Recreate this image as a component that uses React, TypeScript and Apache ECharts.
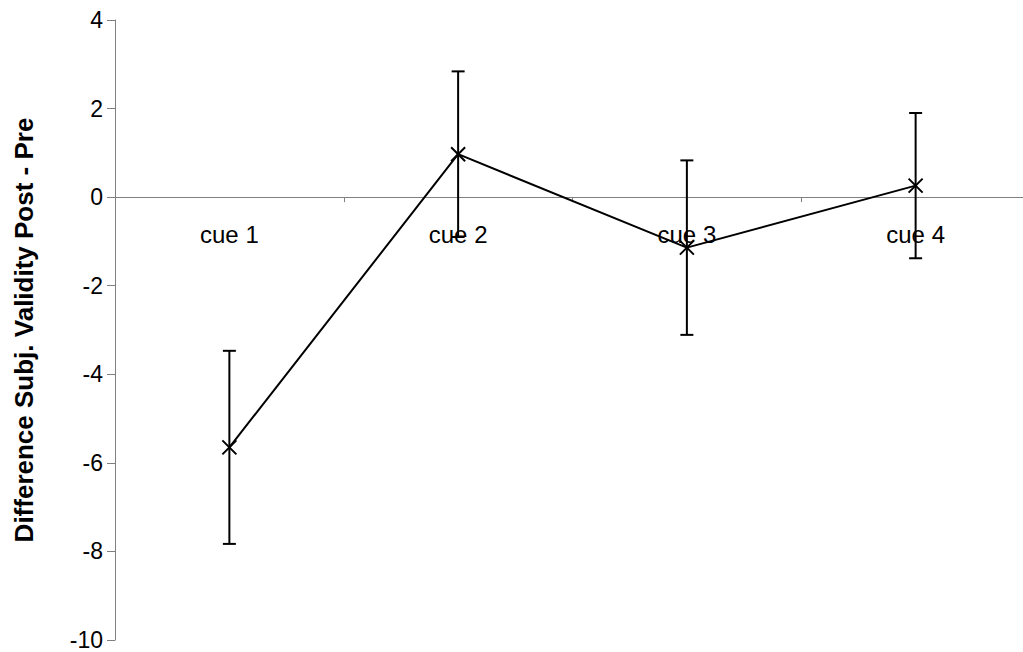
import React, { useEffect, useRef } from "react";
import * as echarts from "echarts";

const categories = ["cue 1", "cue 2", "cue 3", "cue 4"];
const means = [-5.65, 0.97, -1.14, 0.26];
const errors = [2.18, 1.87, 1.97, 1.64];
const yTitle = "Difference Subj. Validity Post - Pre";

const FONT = "'Liberation Sans', Arial, sans-serif";

export default function App() {
  const ref = useRef<HTMLDivElement>(null);
  useEffect(() => {
    if (!ref.current) return;
    const chart = echarts.init(ref.current, null, { renderer: "svg" });
    const errData = categories.map((_, i) => [i, means[i] - errors[i], means[i] + errors[i]]);
    const labelData = categories.map((c, i) => [i, 0, c]);
    chart.setOption({
      animation: false,
      backgroundColor: "#ffffff",
      grid: {
        left: 115,
        top: 20,
        bottom: 12,
        right: -7,
        containLabel: false,
        outerBoundsMode: "none",
      },
      xAxis: {
        type: "category",
        data: categories,
        boundaryGap: true,
        axisLine: { onZero: true, lineStyle: { color: "#808080", width: 1 } },
        axisTick: { show: true, length: 5, lineStyle: { color: "#808080" } },
        axisLabel: { show: false },
        splitLine: { show: false },
      },
      yAxis: {
        type: "value",
        min: -10,
        max: 4,
        interval: 2,
        name: yTitle,
        nameLocation: "middle",
        nameGap: 78,
        nameTextStyle: { color: "#000", fontSize: 26, fontWeight: "bold", fontFamily: FONT },
        axisLine: { show: true, lineStyle: { color: "#808080", width: 1 } },
        axisTick: { show: true, length: 8, lineStyle: { color: "#808080" } },
        axisLabel: { color: "#000", fontSize: 23, lineHeight: 18, fontFamily: FONT, margin: 12 },
        splitLine: { show: false },
      },
      series: [
        {
          type: "custom",
          data: errData,
          z: 2,
          renderItem: (params: any, api: any) => {
            const x = api.value(0);
            const lo = api.coord([x, api.value(1)]);
            const hi = api.coord([x, api.value(2)]);
            const cap = 6.5;
            const style = { stroke: "#000", lineWidth: 2 };
            return {
              type: "group",
              children: [
                { type: "line", shape: { x1: lo[0], y1: lo[1], x2: hi[0], y2: hi[1] }, style },
                { type: "line", shape: { x1: hi[0] - cap, y1: hi[1], x2: hi[0] + cap, y2: hi[1] }, style },
                { type: "line", shape: { x1: lo[0] - cap, y1: lo[1], x2: lo[0] + cap, y2: lo[1] }, style },
              ],
            };
          },
        },
        {
          type: "line",
          data: means,
          z: 3,
          symbol: "path://M0,0L10,10M10,0L0,10",
          symbolSize: 14,
          showSymbol: true,
          lineStyle: { color: "#000", width: 2 },
          itemStyle: { color: "none", borderColor: "#000", borderWidth: 2 },
        },
        {
          type: "custom",
          data: labelData,
          z: 4,
          silent: true,
          renderItem: (params: any, api: any) => {
            const p = api.coord([api.value(0), api.value(1)]);
            return {
              type: "text",
              x: p[0],
              y: p[1] + 25,
              style: {
                text: categories[params.dataIndex],
                fill: "#000",
                fontSize: 24,
                fontFamily: FONT,
                align: "center",
                verticalAlign: "top",
              },
            };
          },
        },
      ],
    });
    return () => chart.dispose();
  }, []);
  return (
    <div
      ref={ref}
      style={{ position: "fixed", left: 0, top: 0, width: 1023, height: 652, background: "#fff" }}
    />
  );
}
